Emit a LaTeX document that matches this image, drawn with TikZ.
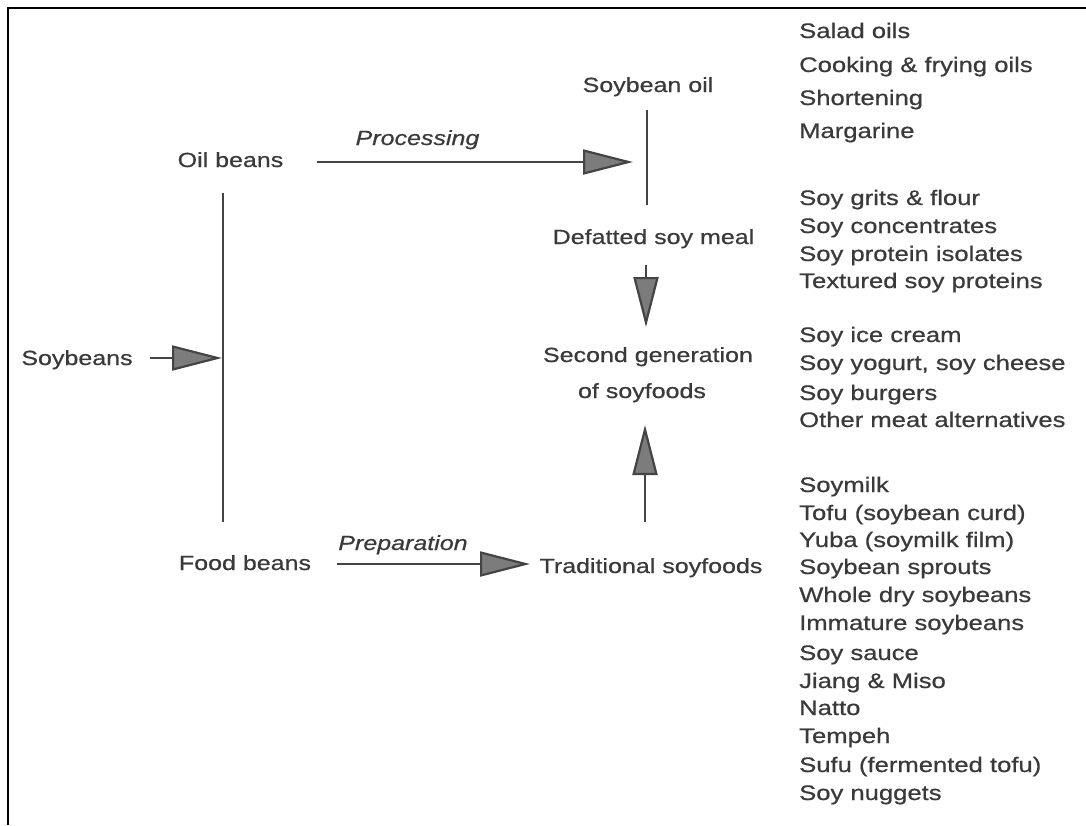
\documentclass[tikz,border=0pt]{standalone}
\usepackage{fontspec}
\setmainfont{Liberation Sans}[FakeStretch=1.22,FakeBold=0.6]
\usetikzlibrary{arrows.meta}
\definecolor{txt}{HTML}{3A3A3A}
\definecolor{ln}{HTML}{444444}
\definecolor{headfill}{HTML}{7C7C7C}
\begin{document}
\begin{tikzpicture}[x=1pt,y=-1pt,
  lbl/.style={inner sep=0pt,text=txt,font=\fontsize{20.5}{24}\selectfont,anchor=base},
  itl/.style={inner sep=0pt,text=txt,font=\fontsize{20.5}{24}\selectfont\itshape,anchor=base},
  item/.style={inner sep=0pt,text=txt,font=\fontsize{21}{25}\selectfont,anchor=base west},
  conn/.style={draw=ln,line width=2.2pt},
  arr/.style={conn,-{Triangle[length=50pt,width=25pt,fill=headfill]}}]
\useasboundingbox (0,0) rectangle (1086,825);
\fill[white] (0,0) rectangle (1086,825);
% frame
\draw[line width=1.6pt,black] (8,825) -- (8,8) -- (1086,8);

% main labels
\node[lbl] (sbeans) at (77,365) {Soybeans};
\node[lbl] (oilb) at (230.5,167) {Oil beans};
\node[lbl] (foodb) at (245,570) {Food beans};
\node[itl] (proc) at (417.5,145) {Processing};
\node[itl] (prep) at (403,550) {Preparation};
\node[lbl] (soil) at (648,92) {Soybean oil};
\node[lbl] (meal) at (653.5,244) {Defatted soy meal};
\node[lbl] (sec1) at (648,362) {Second generation};
\node[lbl] (sec2) at (642,398) {of soyfoods};
\node[lbl] (trad) at (651,573) {Traditional soyfoods};

% connector coordinates
\coordinate (sbS) at (150,358);
\coordinate (sbE) at (222,358);
\coordinate (ltop) at (223,193);
\coordinate (lbot) at (223,522);
\coordinate (procS) at (317,162);
\coordinate (procE) at (633,162);
\coordinate (vtop) at (647,110);
\coordinate (vbot) at (647,205);
\coordinate (downS) at (646,265);
\coordinate (downE) at (646,327);
\coordinate (upS) at (645,522);
\coordinate (upE) at (645,425);
\coordinate (prepS) at (337,564);
\coordinate (prepE) at (530,564);

% connectors
\draw[conn] (ltop) -- (lbot);
\draw[arr] (sbS) -- (sbE);
\draw[arr] (procS) -- (procE);
\draw[conn] (vtop) -- (vbot);
\draw[arr] (downS) -- (downE);
\draw[arr] (upS) -- (upE);
\draw[arr] (prepS) -- (prepE);

% product lists
\node[item] (a1) at (799,38) {Salad oils};
\node[item] (a2) at (799,72) {Cooking \& frying oils};
\node[item] (a3) at (799,105) {Shortening};
\node[item] (a4) at (799,138) {Margarine};

\node[item] (b1) at (799,205) {Soy grits \& flour};
\node[item] (b2) at (799,233) {Soy concentrates};
\node[item] (b3) at (799,261) {Soy protein isolates};
\node[item] (b4) at (799,288) {Textured soy proteins};

\node[item] (c1) at (799,342) {Soy ice cream};
\node[item] (c2) at (799,370) {Soy yogurt, soy cheese};
\node[item] (c3) at (799,400) {Soy burgers};
\node[item] (c4) at (799,427) {Other meat alternatives};

\node[item] (d1) at (799,492) {Soymilk};
\node[item] (d2) at (799,520) {Tofu (soybean curd)};
\node[item] (d3) at (799,547) {Yuba (soymilk film)};
\node[item] (d4) at (799,574) {Soybean sprouts};
\node[item] (d5) at (799,602) {Whole dry soybeans};
\node[item] (d6) at (799,630) {Immature soybeans};
\node[item] (d7) at (799,660) {Soy sauce};
\node[item] (d8) at (799,688) {Jiang \& Miso};
\node[item] (d9) at (799,715) {Natto};
\node[item] (d10) at (799,743) {Tempeh};
\node[item] (d11) at (799,772) {Sufu (fermented tofu)};
\node[item] (d12) at (799,800) {Soy nuggets};
\end{tikzpicture}
\end{document}
